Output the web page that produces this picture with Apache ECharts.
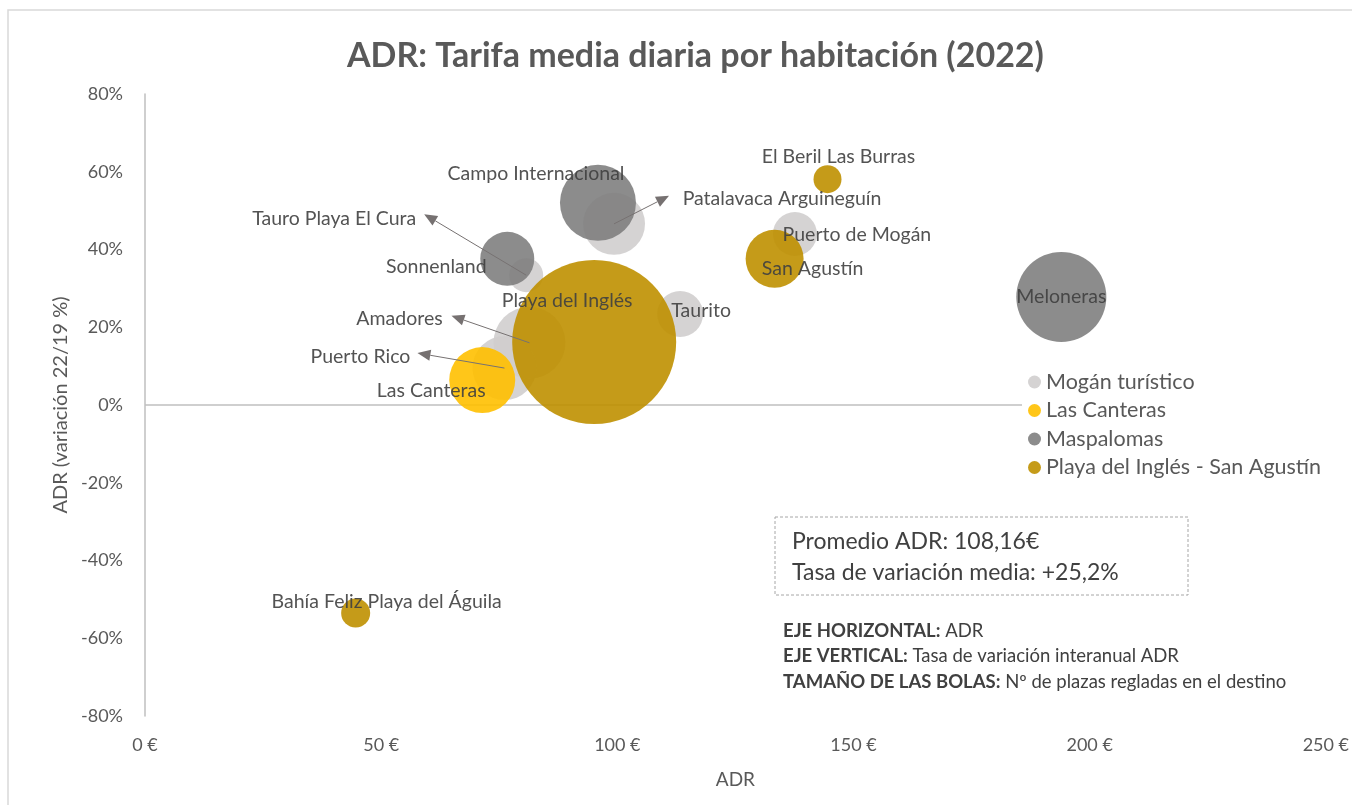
<!DOCTYPE html>
<html>
<head>
<meta charset="utf-8">
<script src="https://cdn.jsdelivr.net/npm/echarts@6/dist/echarts.min.js"></script>
<style>
  html, body { margin: 0; padding: 0; background: #fff; }
  #myChart { width: 1352px; height: 805px; }
</style>
</head>
<body>
<div id="myChart"></div>
<script>
// Mogán turístico
var moganNames = ['Puerto Rico', 'Amadores', 'Tauro Playa El Cura', 'Patalavaca Arguineguín', 'Puerto de Mogán', 'Taurito'];
var moganAdr = [76.1, 81.4, 80.7, 99.3, 137.6, 113.3];
var moganVar = [9.5, 16.0, 33.4, 46.6, 44.0, 23.4];
var moganPlazas = [10200, 12900, 2880, 9580, 4820, 5270];

// Las Canteras
var canterasNames = ['Las Canteras'];
var canterasAdr = [71.4];
var canterasVar = [6.4];
var canterasPlazas = [10850];

// Maspalomas
var maspalomasNames = ['Campo Internacional', 'Sonnenland', 'Meloneras'];
var maspalomasAdr = [95.9, 76.7, 194.0];
var maspalomasVar = [52.0, 37.6, 27.8];
var maspalomasPlazas = [14400, 7260, 20200];

// Playa del Inglés - San Agustín
var playaNames = ['Playa del Inglés', 'San Agustín', 'El Beril Las Burras', 'Bahía Feliz Playa del Águila'];
var playaAdr = [95.1, 133.3, 144.5, 44.6];
var playaVar = [16.2, 37.6, 58.1, -53.5];
var playaPlazas = [67000, 8380, 1950, 2100];

var seriesNames = ['Mogán turístico', 'Las Canteras', 'Maspalomas', 'Playa del Inglés - San Agustín'];
var xTicks = [0, 50, 100, 150, 200, 250];

// label placement (pixels, relative to bubble centre)
var labelOffsets = {
  'Campo Internacional': [-62, -29],
  'Patalavaca Arguineguín': [168, -25],
  'Tauro Playa El Cura': [-192, -56],
  'Sonnenland': [-71, 8],
  'Playa del Inglés': [-27, -41],
  'Amadores': [-130, -24],
  'Puerto Rico': [-144, -11],
  'Las Canteras': [-51, 11],
  'Taurito': [21, -3],
  'El Beril Las Burras': [11, -22],
  'Puerto de Mogán': [62, 1],
  'San Agustín': [38, 10],
  'Meloneras': [0, 0],
  'Bahía Feliz Playa del Águila': [31, -11]
};
// leader arrows (pixels, from bubble centre to arrow tip)
var arrowVectors = {
  'Patalavaca Arguineguín': [55, -28],
  'Tauro Playa El Cura': [-102, -61],
  'Amadores': [-78, -27],
  'Puerto Rico': [-87, -15]
};

var FONT = 'Lato';
var MAX_R = 82;
var maxPlazas = Math.max.apply(null, playaPlazas);

function build (names, adr, vari, plazas) {
  return names.map(function (n, i) {
    return { name: n, value: [adr[i], vari[i], plazas[i]] };
  });
}

var groups = [
  build(moganNames, moganAdr, moganVar, moganPlazas),
  build(canterasNames, canterasAdr, canterasVar, canterasPlazas),
  build(maspalomasNames, maspalomasAdr, maspalomasVar, maspalomasPlazas),
  build(playaNames, playaAdr, playaVar, playaPlazas)
];
var colors = ['#d0cece', '#ffc000', '#7f7f7f', '#bf9000'];

var myChart = echarts.init(document.getElementById('myChart'));

var series = groups.map(function (data, k) {
  return {
    name: seriesNames[k],
    type: 'scatter',
    data: data.map(function (d) {
      return {
        name: d.name,
        value: d.value,
        label: { offset: labelOffsets[d.name] || [0, 0] }
      };
    }),
    symbolSize: function (v) { return 2 * MAX_R * Math.sqrt(v[2] / maxPlazas); },
    itemStyle: { color: colors[k], opacity: 0.9 },
    emphasis: { disabled: true },
    label: {
      show: true,
      position: 'inside',
      formatter: '{b}',
      color: '#404040',
      fontFamily: FONT,
      fontSize: 19.5
    },
    markLine: k === 0 ? {
      silent: true,
      z: 1,
      symbol: ['none', 'none'],
      label: { show: false },
      lineStyle: { color: '#bfbfbf', type: 'solid', width: 1.5 },
      data: [{ yAxis: 0 }]
    } : undefined
  };
});

myChart.setOption({
  animation: false,
  color: colors,
  title: {
    text: 'ADR: Tarifa media diaria por habitación (2022)',
    left: 342,
    top: 34,
    textStyle: { fontFamily: FONT, fontSize: 34, fontWeight: 'bold', color: '#595959' }
  },
  legend: {
    orient: 'vertical',
    left: 1022,
    top: 367,
    icon: 'circle',
    itemWidth: 13,
    itemHeight: 13,
    itemGap: 6.5,
    padding: [4, 6],
    backgroundColor: '#fff',
    selectedMode: false,
    z: 6,
    textStyle: { fontFamily: FONT, fontSize: 21.5, color: '#595959' },
    data: seriesNames
  },
  grid: { left: 145, right: 24, top: 94, bottom: 89 },
  xAxis: {
    type: 'value',
    min: 0,
    max: 250,
    interval: 50,
    name: 'ADR',
    nameLocation: 'middle',
    nameGap: 54,
    nameTextStyle: { fontFamily: FONT, fontSize: 19, color: '#595959' },
    axisLine: { show: false, onZero: false },
    axisTick: { show: false },
    splitLine: { show: false },
    axisLabel: {
      margin: 20,
      fontFamily: FONT,
      fontSize: 18,
      color: '#595959',
      formatter: function (v) { return xTicks.indexOf(v) >= 0 ? v + ' €' : ''; }
    }
  },
  yAxis: {
    type: 'value',
    min: -80,
    max: 80,
    interval: 20,
    name: 'ADR (variación 22/19 %)',
    nameLocation: 'middle',
    nameRotate: 90,
    nameGap: 73,
    nameTextStyle: { fontFamily: FONT, fontSize: 20, color: '#595959' },
    axisLine: { show: true, onZero: false, lineStyle: { color: '#bfbfbf', width: 1.5 } },
    axisTick: { show: false },
    splitLine: { show: false },
    axisLabel: { margin: 22, fontFamily: FONT, fontSize: 18, color: '#595959', formatter: '{value}%' }
  },
  series: series
});

// arrows, box and notes
var graphics = [{
  type: 'rect',
  silent: true,
  shape: { x: 8, y: 10, width: 1400, height: 900 },
  style: { fill: 'none', stroke: '#d9d9d9', lineWidth: 1.5 },
  z: 0
}, {
  type: 'rect',
  silent: true,
  shape: { x: 775, y: 517, width: 413, height: 78 },
  style: { fill: 'none', stroke: '#a6a6a6', lineWidth: 1, lineDash: [3, 2] },
  z: 10
}, {
  type: 'text',
  silent: true,
  left: 792, top: 526,
  style: {
    text: 'Promedio ADR: 108,16€\nTasa de variación media: +25,2%',
    font: '23px ' + FONT,
    fill: '#404040',
    lineHeight: 31
  },
  z: 10
}, {
  type: 'text',
  silent: true,
  left: 783, top: 618,
  style: {
    text: '{b|EJE HORIZONTAL:} ADR\n{b|EJE VERTICAL:} Tasa de variación interanual ADR\n{b|TAMAÑO DE LAS BOLAS:} Nº de plazas regladas en el destino',
    font: '18.5px ' + FONT,
    fill: '#404040',
    lineHeight: 25.5,
    rich: { b: { fontWeight: 'bold', fontFamily: FONT, fontSize: 18.5, fill: '#404040', lineHeight: 25.5 } }
  },
  z: 10
}];

groups.forEach(function (data) {
  data.forEach(function (d) {
    var vec = arrowVectors[d.name];
    if (!vec) return;
    var p = myChart.convertToPixel({ gridIndex: 0 }, [d.value[0], d.value[1]]);
    var ex = p[0] + vec[0], ey = p[1] + vec[1];
    var len = Math.sqrt(vec[0] * vec[0] + vec[1] * vec[1]);
    var ux = vec[0] / len, uy = vec[1] / len;
    var bx = ex - ux * 13, by = ey - uy * 13;
    graphics.push({
      type: 'line', silent: true, z: 20,
      shape: { x1: p[0], y1: p[1], x2: bx, y2: by },
      style: { stroke: '#767171', lineWidth: 1 }
    });
    graphics.push({
      type: 'polygon', silent: true, z: 20,
      shape: { points: [[ex, ey], [bx - uy * 5.5, by + ux * 5.5], [bx + uy * 5.5, by - ux * 5.5]] },
      style: { fill: '#767171' }
    });
  });
});

myChart.setOption({ graphic: graphics });
</script>
</body>
</html>
